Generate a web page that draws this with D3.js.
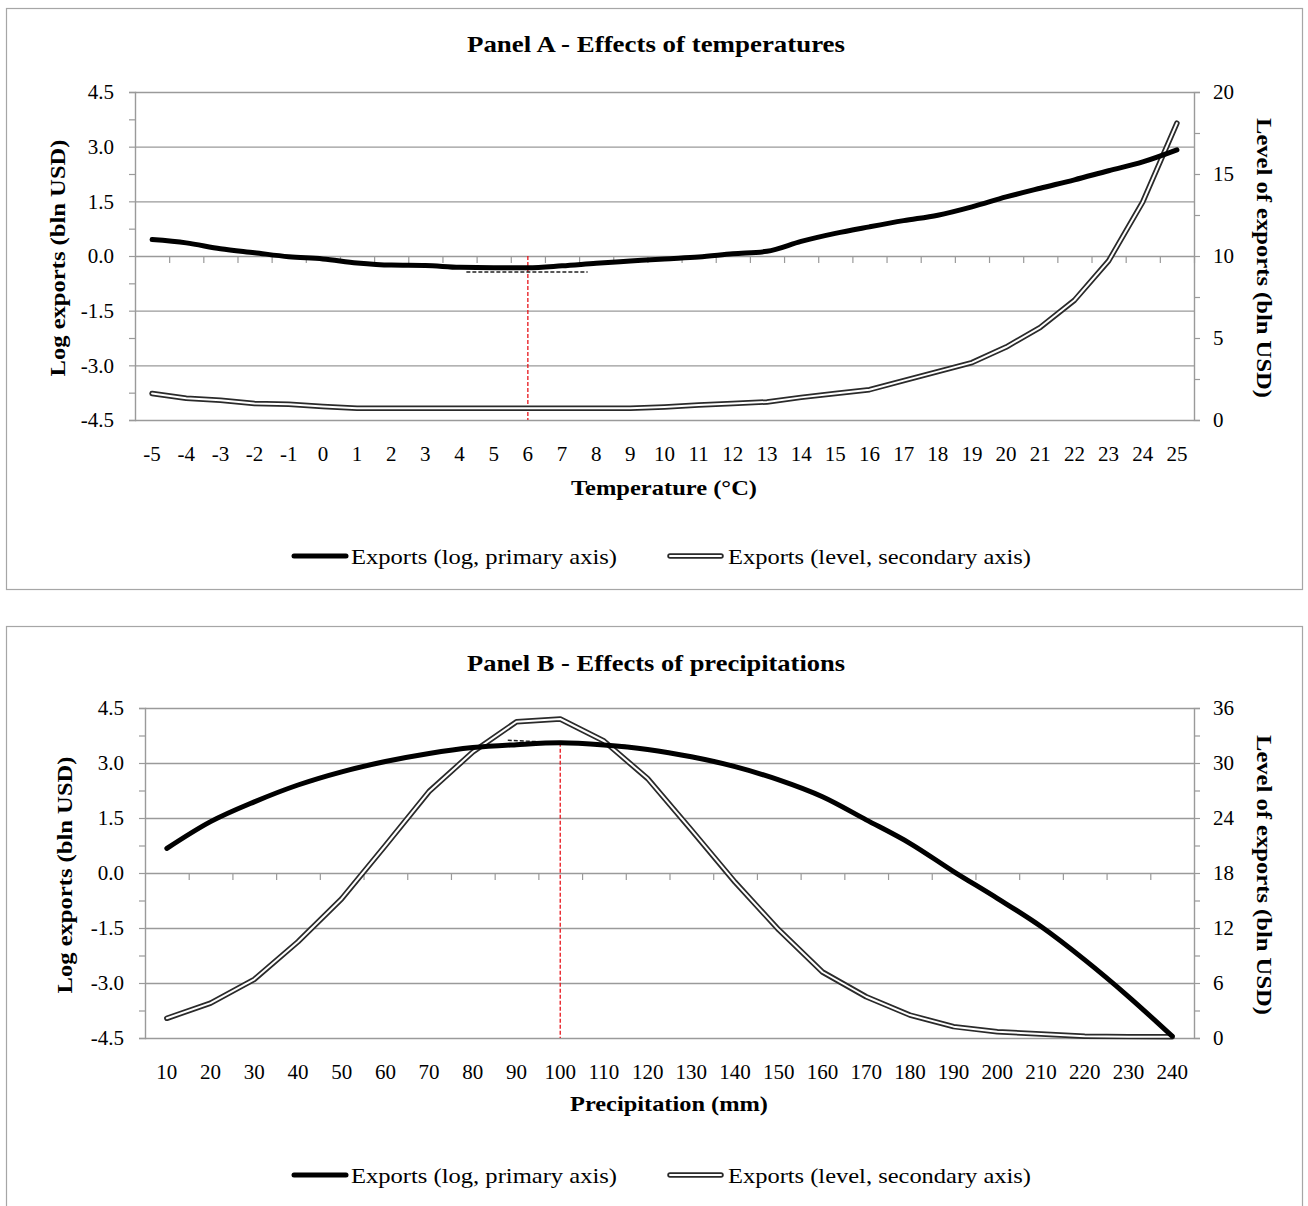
<!DOCTYPE html>
<html>
<head>
<meta charset="utf-8">
<script src="https://cdn.jsdelivr.net/npm/d3@7"></script>
<style>
  body { margin: 0; background: #fff; }
  svg text { font-family: "Liberation Serif", "Times New Roman", serif; fill: #000; }
</style>
</head>
<body>
<svg id="chart"></svg>
<script>
// Constants
const width = 1308;
const height = 1206;

// Panel A data: temperature (°C)
const tempCats = [-5, -4, -3, -2, -1, 0, 1, 2, 3, 4, 5, 6, 7, 8, 9, 10, 11, 12, 13, 14, 15, 16, 17, 18, 19, 20, 21, 22, 23, 24, 25];
const tempLog = [0.45, 0.36, 0.2, 0.09, -0.02, -0.08, -0.19, -0.25, -0.26, -0.31, -0.32, -0.32, -0.27, -0.2, -0.14, -0.08,
                 -0.03, 0.06, 0.13, 0.4, 0.62, 0.8, 0.97, 1.12, 1.35, 1.62, 1.86, 2.09, 2.34, 2.58, 2.91];
const tempLevel = [1.62, 1.33, 1.2, 1.0, 0.96, 0.82, 0.72, 0.72, 0.72, 0.72, 0.72, 0.72, 0.72, 0.72, 0.72, 0.8,
                   0.92, 1.0, 1.1, 1.38, 1.62, 1.85, 2.4, 2.95, 3.5, 4.45, 5.65, 7.3, 9.7, 13.3, 18.1];
const tempLeftTicks = [-4.5, -3.75, -3.0, -2.25, -1.5, -0.75, 0.0, 0.75, 1.5, 2.25, 3.0, 3.75, 4.5];
const tempRightTicks = [0, 2.5, 5, 7.5, 10, 12.5, 15, 17.5, 20];
const tempOptimum = [6, 0, -4.5];           // x, from log value, to log value
const tempTangent = [[4.2, -0.44], [7.75, -0.44]];

// Panel B data: precipitation (mm)
const precCats = [10, 20, 30, 40, 50, 60, 70, 80, 90, 100, 110, 120, 130, 140, 150, 160, 170, 180, 190, 200, 210, 220, 230, 240];
const precLog = [0.67, 1.4, 1.94, 2.4, 2.76, 3.04, 3.26, 3.42, 3.5, 3.55, 3.49, 3.37, 3.17, 2.9, 2.54, 2.08,
                 1.45, 0.81, 0.04, -0.69, -1.46, -2.37, -3.37, -4.45];
const precLevel = [2.15, 3.8, 6.4, 10.5, 15.2, 21.0, 26.9, 31.2, 34.5, 34.8, 32.4, 28.3, 22.7, 17.0, 11.8, 7.2,
                   4.5, 2.5, 1.24, 0.69, 0.44, 0.2, 0.15, 0.15];
const precLeftTicks = [-4.5, -3.75, -3.0, -2.25, -1.5, -0.75, 0.0, 0.75, 1.5, 2.25, 3.0, 3.75, 4.5];
const precRightTicks = [0, 3, 6, 9, 12, 15, 18, 21, 24, 27, 30, 33, 36];
const precOptimum = [100, 3.55, -4.5];
const precTangent = [[88, 3.62], [116, 3.47]];

const legendLabels = ["Exports (log, primary axis)", "Exports (level, secondary axis)"];

const svg = d3.select("#chart").attr("width", width).attr("height", height);

// draws one panel of the figure
function drawPanel(p) {
    const g = svg.append("g");
    const n = p.cats.length;

    // panel frame
    g.append("rect")
        .attr("x", p.box[0] + 0.5).attr("y", p.box[1] + 0.5)
        .attr("width", p.box[2]).attr("height", p.box[3])
        .attr("fill", "none").attr("stroke", "#a6a6a6").attr("stroke-width", 1.2);

    // scales
    const xBand = d3.scaleBand().domain(p.cats).range([p.left, p.right]).padding(0);
    const step = p.cats[1] - p.cats[0];
    const xVal = d3.scaleLinear()
        .domain([p.cats[0] - step / 2, p.cats[n - 1] + step / 2])
        .range([p.left, p.right]);
    const xEdge = d3.scaleLinear().domain([0, n]).range([p.left, p.right]);
    const yL = d3.scaleLinear().domain([-4.5, 4.5]).range([p.bottom, p.top]);
    const yR = d3.scaleLinear().domain(p.rightDomain).range([p.bottom, p.top]);
    const cx = d => xBand(d) + xBand.bandwidth() / 2;

    // horizontal gridlines at the labelled values
    const labelled = p.leftTicks.filter((d, i) => i % 2 === 0);
    g.append("g")
        .attr("transform", `translate(${p.left},0)`)
        .call(d3.axisLeft(yL).tickValues(labelled).tickSize(-(p.right - p.left)).tickFormat(""))
        .call(a => a.select(".domain").remove())
        .call(a => a.selectAll("line").attr("stroke", "#9a9a9a").attr("stroke-width", 1.4));

    // left axis (hyphen minus, as in the original)
    g.append("g")
        .attr("transform", `translate(${p.left},0)`)
        .call(d3.axisLeft(yL).tickValues(p.leftTicks).tickSize(6).tickPadding(15)
            .tickFormat((d, i) => i % 2 === 0 ? d.toFixed(1) : ""))
        .call(a => a.select(".domain").attr("stroke", "#9a9a9a").attr("stroke-width", 1.4))
        .call(a => a.selectAll("line").attr("stroke", "#9a9a9a").attr("stroke-width", 1.2))
        .call(a => a.selectAll("text").attr("font-size", 21).attr("font-family", "Liberation Serif"));

    // right axis
    g.append("g")
        .attr("transform", `translate(${p.right},0)`)
        .call(d3.axisRight(yR).tickValues(p.rightTicks).tickSize(6).tickPadding(13)
            .tickFormat((d, i) => i % 2 === 0 ? d : ""))
        .call(a => a.select(".domain").attr("stroke", "#9a9a9a").attr("stroke-width", 1.4))
        .call(a => a.selectAll("line").attr("stroke", "#9a9a9a").attr("stroke-width", 1.2))
        .call(a => a.selectAll("text").attr("font-size", 21).attr("font-family", "Liberation Serif"));

    // category tick marks between categories, hanging from the zero line
    g.append("g")
        .attr("transform", `translate(0,${yL(0)})`)
        .call(d3.axisBottom(xEdge).tickValues(d3.range(1, n + 1)).tickSize(7).tickFormat(""))
        .call(a => a.select(".domain").remove())
        .call(a => a.selectAll("line").attr("stroke", "#9a9a9a").attr("stroke-width", 1.2));

    // category labels at the bottom
    g.append("g")
        .attr("transform", `translate(0,${p.bottom})`)
        .call(d3.axisBottom(xBand).tickSize(0).tickPadding(26))
        .call(a => a.select(".domain").remove())
        .call(a => a.selectAll("text").attr("font-size", 21).attr("font-family", "Liberation Serif"));

    // optimum marker (red dashed)
    g.append("line")
        .attr("x1", xVal(p.optimum[0])).attr("x2", xVal(p.optimum[0]))
        .attr("y1", yL(p.optimum[1])).attr("y2", yL(p.optimum[2]))
        .attr("stroke", "#e8141b").attr("stroke-width", 1.3).attr("stroke-dasharray", "4,2");

    // level series (double line, secondary axis)
    const lineR = d3.line().x((d, i) => cx(p.cats[i])).y(d => yR(d));
    g.append("path").datum(p.level)
        .attr("d", lineR).attr("fill", "none")
        .attr("stroke", "#2a2a2a").attr("stroke-width", 5.5)
        .attr("stroke-linejoin", "round").attr("stroke-linecap", "round");
    g.append("path").datum(p.level)
        .attr("d", lineR).attr("fill", "none")
        .attr("stroke", "#fff").attr("stroke-width", 2)
        .attr("stroke-linejoin", "round").attr("stroke-linecap", "round");

    // tangent at the optimum (black dashed)
    g.append("line")
        .attr("x1", xVal(p.tangent[0][0])).attr("x2", xVal(p.tangent[1][0]))
        .attr("y1", yL(p.tangent[0][1])).attr("y2", yL(p.tangent[1][1]))
        .attr("stroke", "#222").attr("stroke-width", 1.4).attr("stroke-dasharray", "4,2");

    // log series (thick black line, primary axis)
    const lineL = d3.line().x((d, i) => cx(p.cats[i])).y(d => yL(d)).curve(d3.curveMonotoneX);
    g.append("path").datum(p.log)
        .attr("d", lineL).attr("fill", "none")
        .attr("stroke", "#000").attr("stroke-width", 5)
        .attr("stroke-linejoin", "round").attr("stroke-linecap", "round");

    // titles
    g.append("text")
        .attr("x", 656).attr("y", p.titleY)
        .attr("text-anchor", "middle").attr("font-size", 23).attr("font-weight", "bold")
        .attr("textLength", 378).attr("lengthAdjust", "spacingAndGlyphs")
        .text(p.title);

    g.append("text")
        .attr("x", p.xTitle[0]).attr("y", p.xTitle[1])
        .attr("text-anchor", "middle").attr("font-size", 22).attr("font-weight", "bold")
        .attr("textLength", p.xTitle[2]).attr("lengthAdjust", "spacingAndGlyphs")
        .text(p.xLabel);

    g.append("text")
        .attr("transform", `translate(${p.yTitleL[0]},${p.yTitleL[1]}) rotate(-90)`)
        .attr("text-anchor", "middle").attr("dominant-baseline", "central")
        .attr("font-size", 22).attr("font-weight", "bold")
        .attr("textLength", 237).attr("lengthAdjust", "spacingAndGlyphs")
        .text("Log exports (bln USD)");

    g.append("text")
        .attr("transform", `translate(${p.yTitleR[0]},${p.yTitleR[1]}) rotate(90)`)
        .attr("text-anchor", "middle").attr("dominant-baseline", "central")
        .attr("font-size", 22).attr("font-weight", "bold")
        .attr("textLength", 280).attr("lengthAdjust", "spacingAndGlyphs")
        .text("Level of exports (bln USD)");

    // legend
    const ly = p.legendY;
    g.append("line").attr("x1", 294).attr("x2", 346).attr("y1", ly).attr("y2", ly)
        .attr("stroke", "#000").attr("stroke-width", 5).attr("stroke-linecap", "round");
    g.append("text").attr("x", 351).attr("y", ly).attr("dominant-baseline", "central")
        .attr("font-size", 22).attr("textLength", 266).attr("lengthAdjust", "spacingAndGlyphs")
        .text(legendLabels[0]);
    g.append("line").attr("x1", 670).attr("x2", 721).attr("y1", ly).attr("y2", ly)
        .attr("stroke", "#2a2a2a").attr("stroke-width", 5.5).attr("stroke-linecap", "round");
    g.append("line").attr("x1", 670).attr("x2", 721).attr("y1", ly).attr("y2", ly)
        .attr("stroke", "#fff").attr("stroke-width", 2).attr("stroke-linecap", "round");
    g.append("text").attr("x", 728).attr("y", ly).attr("dominant-baseline", "central")
        .attr("font-size", 22).attr("textLength", 303).attr("lengthAdjust", "spacingAndGlyphs")
        .text(legendLabels[1]);
}

drawPanel({
    box: [6, 8, 1296, 581],
    left: 135, right: 1194, top: 92, bottom: 420,
    cats: tempCats, log: tempLog, level: tempLevel,
    leftTicks: tempLeftTicks, rightTicks: tempRightTicks, rightDomain: [0, 20],
    optimum: tempOptimum, tangent: tempTangent,
    title: "Panel A - Effects  of temperatures", titleY: 52,
    xLabel: "Temperature (°C)", xTitle: [664, 495, 186],
    yTitleL: [57, 258], yTitleR: [1264, 258],
    legendY: 556
});

drawPanel({
    box: [6, 626, 1296, 600],
    left: 145, right: 1194, top: 708, bottom: 1038,
    cats: precCats, log: precLog, level: precLevel,
    leftTicks: precLeftTicks, rightTicks: precRightTicks, rightDomain: [0, 36],
    optimum: precOptimum, tangent: precTangent,
    title: "Panel B - Effects  of precipitations", titleY: 671,
    xLabel: "Precipitation (mm)", xTitle: [669, 1111, 198],
    yTitleL: [64, 875], yTitleR: [1264, 875],
    legendY: 1175
});
</script>
</body>
</html>
